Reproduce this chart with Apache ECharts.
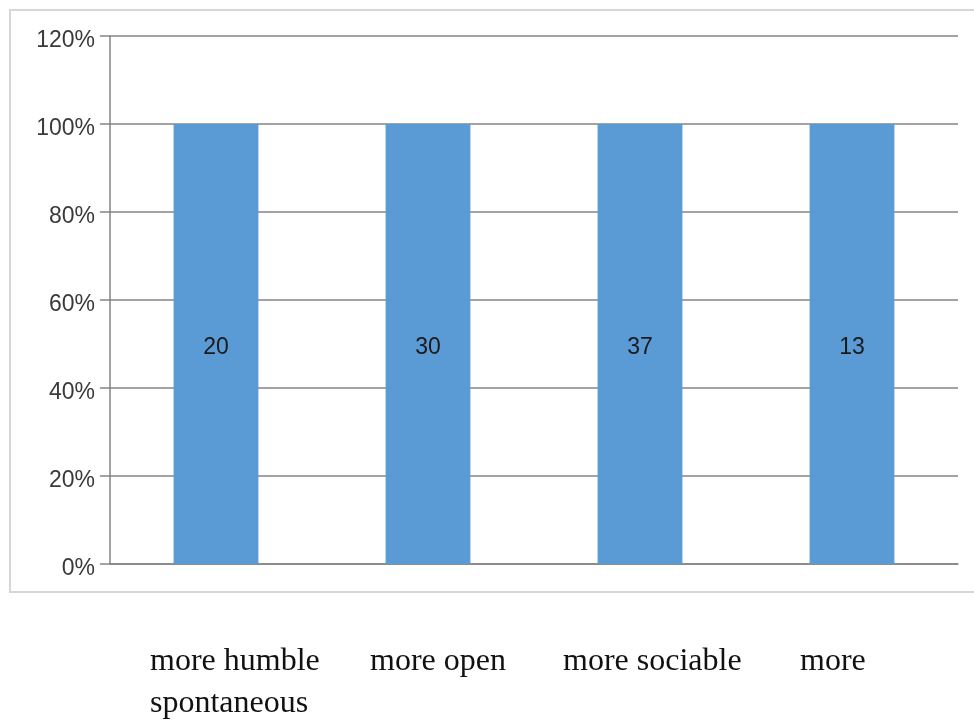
<!DOCTYPE html>
<html>
<head>
<meta charset="utf-8">
<script src="https://cdn.jsdelivr.net/npm/echarts@6/dist/echarts.min.js"></script>
<style>
  html, body { margin: 0; padding: 0; background: #ffffff; }
  #chart { width: 974px; height: 721px; }
</style>
</head>
<body>
<div id="chart"></div>
<script>
// Answer categories and how many respondents chose each
const categories = ['more humble', 'more open', 'more sociable', 'more spontaneous'];
const counts = [20, 30, 37, 13];
const yTicks = ['0%', '20%', '40%', '60%', '80%', '100%', '120%'];

// 100% stacked column: each count as a share of its own category's stack total
const stackTotals = counts.map(function (c) { return c; });
const shares = counts.map(function (c, i) { return c / stackTotals[i] * 100; });

const chart = echarts.init(document.getElementById('chart'), null, { renderer: 'canvas' });

// Category captions set as a wrapped serif line under the framed chart
const captionFont = '32px "Liberation Serif", "Times New Roman", serif';
const lastWords = categories[3].split(' ');
const captionStarts = [150, 370, 563, 800];
const captions = categories.slice(0, 3).map(function (t, i) {
  return { type: 'text', left: captionStarts[i], top: 646,
    style: { text: t, font: captionFont, fill: '#111111' } };
});
captions.push({ type: 'text', left: captionStarts[3], top: 646,
  style: { text: lastWords[0], font: captionFont, fill: '#111111' } });
captions.push({ type: 'text', left: captionStarts[0], top: 688,
  style: { text: lastWords.slice(1).join(' '), font: captionFont, fill: '#111111' } });

const option = {
  backgroundColor: '#ffffff',
  animation: false,
  grid: { left: 110, right: 16, top: 36, bottom: 157, containLabel: false },
  xAxis: {
    type: 'category',
    data: categories,
    axisLine: { show: true, lineStyle: { color: '#858585', width: 1.5 } },
    axisTick: { show: false },
    axisLabel: { show: false },
    splitLine: { show: false }
  },
  yAxis: {
    type: 'value',
    min: 0,
    max: 120,
    interval: 20,
    axisLine: { show: true, lineStyle: { color: '#858585', width: 1.5 } },
    axisTick: { show: true, length: 10, lineStyle: { color: '#858585', width: 1.5 } },
    axisLabel: {
      margin: 15,
      verticalAlign: 'top',
      lineHeight: 10,
      fontFamily: '"Liberation Sans", Arial, sans-serif',
      fontSize: 23,
      color: '#3a3a3a',
      formatter: function (v) { return yTicks[Math.round(v / 20)]; }
    },
    splitLine: { show: true, lineStyle: { color: '#858585', width: 1.5 } }
  },
  series: [{
    type: 'bar',
    stack: 'share',
    data: shares,
    barWidth: '40%',
    itemStyle: { color: '#5b9bd5' },
    label: {
      show: true,
      position: 'inside',
      offset: [0, 4],
      fontFamily: '"Liberation Sans", Arial, sans-serif',
      fontSize: 23,
      color: '#1a1a1a',
      formatter: function (p) { return String(counts[p.dataIndex]); }
    }
  }],
  graphic: [
    { type: 'rect', z: -1, silent: true,
      shape: { x: 10, y: 10, width: 980, height: 582 },
      style: { fill: 'none', stroke: '#d6d6d6', lineWidth: 2 } }
  ].concat(captions)
};

chart.setOption(option);
</script>
</body>
</html>
